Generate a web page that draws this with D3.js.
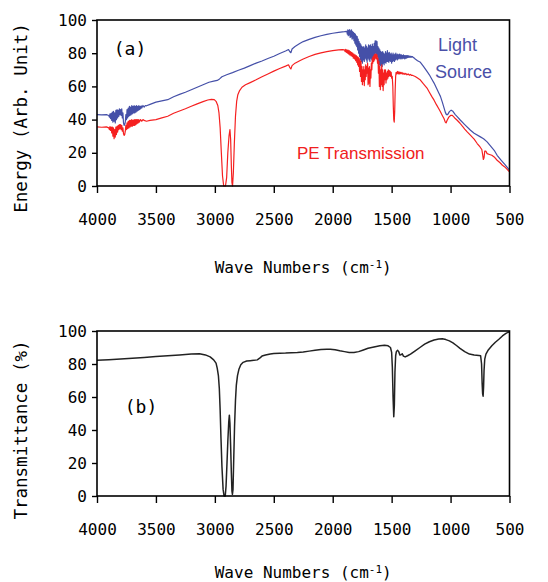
<!DOCTYPE html>
<html><head><meta charset="utf-8">
<script src="https://cdn.jsdelivr.net/npm/d3@7"></script>
<style>
html,body{margin:0;padding:0;background:#fff;}
svg{display:block;}
.mono{font-family:"DejaVu Sans Mono",monospace;}
</style></head>
<body>
<svg id="chart" width="548" height="582"></svg>
<script>
// ---------- data ----------
const waveTicks = [4000, 3500, 3000, 2500, 2000, 1500, 1000, 500];
const valueTicks = [0, 20, 40, 60, 80, 100];

// Light source spectrum (panel a, blue): [wavenumber, energy]
const lightSource = [
[4000,43],[3960,42.8],[3920,43],[3900,42.5],[3895,41.5],[3890,43.5],[3885,40.5],[3880,43.8],[3875,39.5],[3870,44.5],
[3865,38.5],[3860,45],[3855,39],[3850,44],[3845,38],[3840,45.5],[3835,40],[3830,46],[3825,41],[3820,45.5],
[3815,42],[3810,46.5],[3805,43],[3800,46],[3795,42.5],[3790,46.5],[3785,41],[3780,44],[3775,38],[3770,36.5],
[3765,37],[3760,38.5],[3755,43],[3750,40],[3745,46],[3740,41],[3735,47],[3730,42],[3725,48],[3720,42.5],
[3715,47.5],[3710,43],[3705,48.5],[3700,43.5],[3695,48],[3690,44],[3685,48.5],[3680,44],[3675,48],[3670,44.5],
[3665,48.5],[3660,45],[3655,48],[3650,45.5],[3645,48.5],[3640,46],[3635,48],[3630,46.5],[3625,48.3],[3620,47],
[3610,48.5],[3600,47.5],[3590,48.5],[3580,48.3],
[3550,49.2],[3500,50.5],[3450,51.3],[3400,52],[3350,53.8],[3300,55.2],[3250,56.5],[3200,58],[3150,59.5],[3100,61],
[3050,62.5],[3010,63.2],[2980,63.6],[2960,64.5],[2940,65.8],[2900,67],[2850,68.3],[2800,69.7],[2750,71],[2700,72.5],
[2650,74],[2600,75.3],[2550,76.8],[2500,78.2],[2450,79.8],[2400,81.3],[2375,82.2],[2365,81],[2355,80.3],[2345,82.5],
[2320,84],[2280,85.8],[2250,87],[2200,88.3],[2150,89.5],[2100,90.5],[2050,91.3],[2000,92],[1950,92.6],[1900,93],
[1880,93.2],[1876,91.5],[1872,94],[1868,90.5],[1864,93.8],[1860,91],[1856,94.2],[1852,89.5],[1848,93.5],[1844,90],
[1840,94],[1836,88.5],[1832,93],[1828,89],[1824,92.5],[1820,87.5],[1816,92],[1812,86],[1808,91.5],[1804,85],
[1800,90.5],[1796,84],[1792,90],[1788,82],[1784,88.5],[1780,80],[1776,87],[1772,78],[1768,86],[1764,76],
[1760,85],[1756,75],[1752,84],[1748,74],[1744,83.5],[1740,76],[1736,84],[1732,75],[1728,83],[1724,77],
[1720,85],[1716,76],[1712,84],[1708,74.5],[1704,83],[1700,77],[1696,85],[1692,76],[1688,84.5],[1684,75],
[1680,85],[1676,77],[1672,84],[1668,76],[1664,85.5],[1660,77],[1656,84],[1652,78],[1648,86],[1644,79],
[1640,87.5],[1636,80],[1632,87.5],[1628,79],[1624,87],[1620,78],[1616,84],[1612,74],[1608,83],[1604,73],
[1600,82],[1596,72.5],[1592,81],[1588,73],[1584,80.5],[1580,72],[1576,81],[1572,74],[1568,80],[1564,73],
[1560,79.5],[1556,74.5],[1552,81],[1548,74],[1544,80],[1540,75],[1536,81.5],[1532,75],[1528,80],[1524,74.5],
[1520,80.5],[1516,75.5],[1512,79.5],[1508,75],[1504,80],[1500,74],[1496,79],[1492,75],[1488,80],[1484,75.5],
[1480,79],[1476,75],[1472,79.5],[1468,76],[1464,80],[1460,76.5],[1456,79],[1452,76],[1448,79.5],[1444,76.5],
[1440,79],[1436,77],[1432,79.5],[1428,76.5],[1424,79],[1420,77],[1416,79],[1412,76.5],[1408,78.5],[1404,77],
[1400,79],[1396,77],[1392,78.5],[1388,76.5],[1384,78.5],[1380,77],[1376,78.5],[1372,77],[1368,78.5],[1364,77.5],
[1360,78.5],[1355,77.5],[1350,78.3],[1344,77.5],[1338,78.2],[1332,77.6],[1325,78],[1318,77.5],[1310,77.2],[1300,76.5],
[1280,75.5],[1256,74.5],[1230,72],[1200,69],[1180,67],[1160,64.5],[1140,62],
[1120,59],[1100,56],[1086,54],[1070,50.5],[1058,47.7],[1045,44.5],[1035,43],[1025,43],[1010,44.8],[995,45.7],
[980,45],[960,43],[940,41.5],[916,39.6],[880,37],[831,33.6],[800,31.8],[747,29.6],[720,28.5],[690,26.6],
[660,24],[630,21.5],[605,18.5],[570,15.5],[540,13],[500,9.5]
];

// PE transmission energy (panel a, red): [wavenumber, energy]
const peEnergy = [
[4000,35.6],[3960,35.4],[3920,35.6],[3900,35],[3895,34],[3890,35.8],[3885,33.5],[3880,35.5],[3875,32],[3870,35.5],
[3865,30],[3860,35],[3855,28.5],[3850,34],[3845,29.5],[3840,35.5],[3835,31],[3830,36],[3825,32.5],[3820,36.5],
[3815,34],[3810,37],[3805,34.5],[3800,37],[3795,34],[3790,36.5],[3785,33],[3780,35],[3775,31.5],[3770,30.5],
[3765,31],[3760,33],[3755,36.5],[3750,34],[3745,38],[3740,34.5],[3735,39],[3730,35],[3725,39.5],[3720,35.5],
[3715,39.5],[3710,36],[3705,40],[3700,36],[3695,39.5],[3690,36.5],[3685,40],[3680,36.5],[3675,40],[3670,37],
[3665,40],[3660,37.5],[3655,40],[3650,38],[3645,40],[3640,38.5],[3630,40],[3620,39],[3610,40],[3600,39.5],
[3580,39],[3550,39.5],
[3500,40],[3450,41],[3400,42],[3350,43.8],[3300,45.2],[3250,46.5],[3200,48],[3150,49.5],[3100,50.8],[3060,51.8],
[3030,52.2],[3005,52],[2990,51],[2975,48.5],[2965,44],[2955,35],[2945,20],[2935,6],[2925,0],[2910,0],
[2900,5],[2890,20],[2880,30],[2872,34],[2866,28],[2860,12],[2855,2],[2850,0],[2843,8],[2835,25],
[2825,42],[2815,51],[2805,55],[2790,57.5],[2770,59.5],[2740,61],[2700,62.3],[2650,64],[2600,65.8],[2550,67.5],
[2500,69.2],[2450,70.8],[2400,72.2],[2375,73],[2365,71.5],[2355,70.5],[2345,72.5],[2320,74],[2280,75.5],[2250,76.5],
[2200,78],[2150,79.3],[2100,80.2],[2050,81],[2000,81.6],[1950,82],[1920,82.2],
[1900,82],[1895,81],[1890,82.3],[1885,80.5],[1880,82],[1875,80],[1870,81.8],[1865,79.5],[1860,81.5],[1855,79],
[1850,81],[1845,78.5],[1840,80.5],[1835,78],[1830,80],[1825,77],[1820,79.5],[1815,76.5],[1810,79],[1805,75.5],
[1800,78.5],[1796,74.5],[1792,78],[1788,73],[1784,77.5],[1780,72],[1776,77],[1772,69],[1768,76],[1764,66],
[1760,75],[1756,63],[1752,72],[1748,61],[1744,70],[1740,63],[1736,72],[1732,60.5],[1728,70],[1724,64],
[1720,73],[1716,66],[1712,72],[1708,68],[1704,74],[1700,61],[1696,71],[1692,62],[1688,72],[1684,60],
[1680,70],[1676,65],[1672,74],[1668,70],[1664,77],[1660,74],[1656,78],[1652,75],[1648,79],[1644,76],
[1640,79.5],[1636,77],[1632,79.5],[1628,76.5],[1624,79],[1620,74],[1616,77],[1612,68],[1608,75],[1604,60],
[1600,72],[1596,58],[1592,70],[1588,61],[1584,73],[1580,60],[1576,70],[1572,57.5],[1568,68],[1564,61],
[1560,70],[1556,64],[1552,70],[1548,62],[1544,68],[1540,64],[1536,69],[1532,65],[1528,70],[1524,66],
[1520,69.5],[1516,66.5],[1512,69],[1508,66],[1504,68.5],[1500,65],[1495,66],[1490,60],[1486,48],[1482,40],
[1478,38.5],[1474,45],[1470,58],[1466,66],[1462,68.5],[1456,67.5],[1450,69],[1444,67.5],[1438,68.8],[1432,67.5],
[1426,68.5],[1420,67.6],[1412,68.4],[1404,67.3],[1396,68],[1388,67.2],[1380,67.8],[1370,67],[1360,67.5],[1350,66.8],
[1340,67.2],[1330,66.6],[1320,66.6],[1300,66],
[1280,65],[1256,63.8],[1230,61.5],
[1200,59],[1180,56.5],[1160,54],[1140,51.7],[1120,49],[1100,46.5],[1086,44.7],[1070,42.5],[1055,40.5],[1045,38.5],
[1038,38],[1030,39.5],[1015,41.5],[1000,42.5],[985,42.5],[965,41],[944,39.6],[920,37.8],[900,36],[880,34.3],
[859,32.6],[830,30.5],[800,28.2],[774,25.6],[750,23.5],[735,22],[728,19],[722,16],[716,17],[710,21],
[700,21],[690,19.5],[670,19],[650,18.5],[630,17.5],[605,15.5],[580,14],[560,12.5],[540,11.5],[520,10],[500,8.5]
];

// PE transmittance (panel b, black): [wavenumber, %T]
const peTransmittance = [
[4000,82.2],[3900,82.6],[3800,83],[3700,83.5],[3600,84],[3500,84.6],[3400,85],[3300,85.5],[3200,86],[3130,86.2],
[3080,85.5],[3040,84.3],[3010,82.5],[2990,80.5],[2980,77.5],[2970,73],[2962,65],[2955,52],[2948,35],[2940,18],
[2930,4],[2922,0],[2912,0],[2905,6],[2897,20],[2890,33],[2882,45],[2877,49],[2872,44],[2866,30],
[2860,14],[2855,3],[2851,1],[2846,4],[2840,22],[2833,42],[2825,58],[2818,67],[2808,73],[2795,77],
[2780,79.5],[2760,81],[2730,81.8],[2700,82],[2670,82.2],[2640,82.5],[2620,83.5],[2600,84.8],[2570,85.4],[2530,86],
[2500,86.3],[2450,86.5],[2400,86.6],[2350,86.8],[2300,87],[2250,87.3],[2200,87.8],[2150,88.3],[2100,88.8],[2050,89],
[2020,89],[1980,88.6],[1940,88],[1900,87.5],[1860,87],[1820,87],[1780,87.5],[1740,88.5],[1700,89.5],[1650,90.3],
[1600,91],[1560,91.3],[1530,91],[1510,90],[1500,87],[1494,78],[1488,60],[1482,48],[1477,55],[1472,75],
[1466,85],[1460,87.5],[1450,88.3],[1440,87.5],[1430,85.5],[1420,85.6],[1410,86.2],[1400,84.8],[1385,84.3],[1365,85],
[1340,86],[1300,88],[1260,90],[1220,92],[1180,93.5],[1140,94.5],[1100,95.2],[1070,95.3],[1040,94.8],[1010,94],
[980,92.8],[950,91.2],[920,89.5],[880,87.5],[840,86],[800,85.4],[760,85.2],[745,85],[737,80],[732,68],
[728,62],[724,60.5],[720,66],[716,76],[710,83],[700,86],[680,88.5],[650,91],[620,93.2],[590,95],
[560,97],[530,98.6],[510,99.3],[500,99.5]
];

// ---------- drawing ----------
const svg = d3.select("#chart");
const left = 97, right = 509.5;
const x = d3.scaleLinear().domain([4000, 500]).range([left, right]);

function panel(top, bottom, yTitle, yTitleY, tag, tagX, tagY, titleY, series) {
  const y = d3.scaleLinear().domain([0, 100]).range([bottom, top]);
  const g = svg.append("g");

  const line = d3.line().x(d => x(d[0])).y(d => y(d[1]));
  series.forEach(s => {
    g.append("path").datum(s.data).attr("d", line)
      .attr("fill", "none").attr("stroke", s.color).attr("stroke-width", s.width)
      .attr("stroke-linejoin", "round");
  });

  // frame
  g.append("rect").attr("x", left).attr("y", top)
    .attr("width", right - left).attr("height", bottom - top)
    .attr("fill", "none").attr("stroke", "#000").attr("stroke-width", 1.6);

  const xa = g.append("g").attr("transform", `translate(0,${bottom})`)
    .call(d3.axisBottom(x).tickValues(waveTicks).tickSize(7).tickPadding(21).tickFormat(d3.format("d")));
  const ya = g.append("g").attr("transform", `translate(${left},0)`)
    .call(d3.axisLeft(y).tickValues(valueTicks).tickSize(5).tickPadding(5));
  [xa, ya].forEach(a => {
    a.select(".domain").remove();
    a.selectAll("line").attr("stroke", "#000").attr("stroke-width", 1.4);
    a.selectAll("text").attr("class", "mono").attr("font-size", 16).attr("fill", "#000");
  });

  g.append("text").attr("class", "mono").attr("font-size", 17.5)
    .attr("transform", `translate(21,${yTitleY}) rotate(-90)`)
    .attr("text-anchor", "middle").attr("dy", "0.35em").text(yTitle);

  const t = g.append("text").attr("class", "mono").attr("font-size", 16)
    .attr("x", (left + right) / 2).attr("y", titleY).attr("text-anchor", "middle");
  t.append("tspan").text("Wave Numbers (cm");
  t.append("tspan").attr("font-size", 11).attr("dy", -5).text("-1");
  t.append("tspan").attr("dy", 5).text(")");

  g.append("text").attr("class", "mono").attr("font-size", 18)
    .attr("x", tagX).attr("y", tagY).attr("dy", "0.35em").attr("text-anchor", "middle").text(tag);
  return y;
}

panel(20, 186, "Energy (Arb. Unit)", 118, "(a)", 130, 49, 273, [
  {data: lightSource, color: "#4550a8", width: 1.2},
  {data: peEnergy, color: "#f52020", width: 1.2}
]);
panel(331, 496, "Transmittance (%)", 430, "(b)", 141, 407, 578, [
  {data: peTransmittance, color: "#222", width: 1.5}
]);

const sans = "'Liberation Sans', Arial, sans-serif";
svg.append("text").attr("x", 438).attr("y", 51).attr("font-family", sans).attr("font-size", 18)
  .attr("fill", "#4a50a8").text("Light");
svg.append("text").attr("x", 435).attr("y", 78).attr("font-family", sans).attr("font-size", 18)
  .attr("fill", "#4a50a8").text("Source");
svg.append("text").attr("x", 297).attr("y", 159).attr("font-family", sans).attr("font-size", 17)
  .attr("fill", "#f02020").text("PE Transmission");
</script>
</body></html>
